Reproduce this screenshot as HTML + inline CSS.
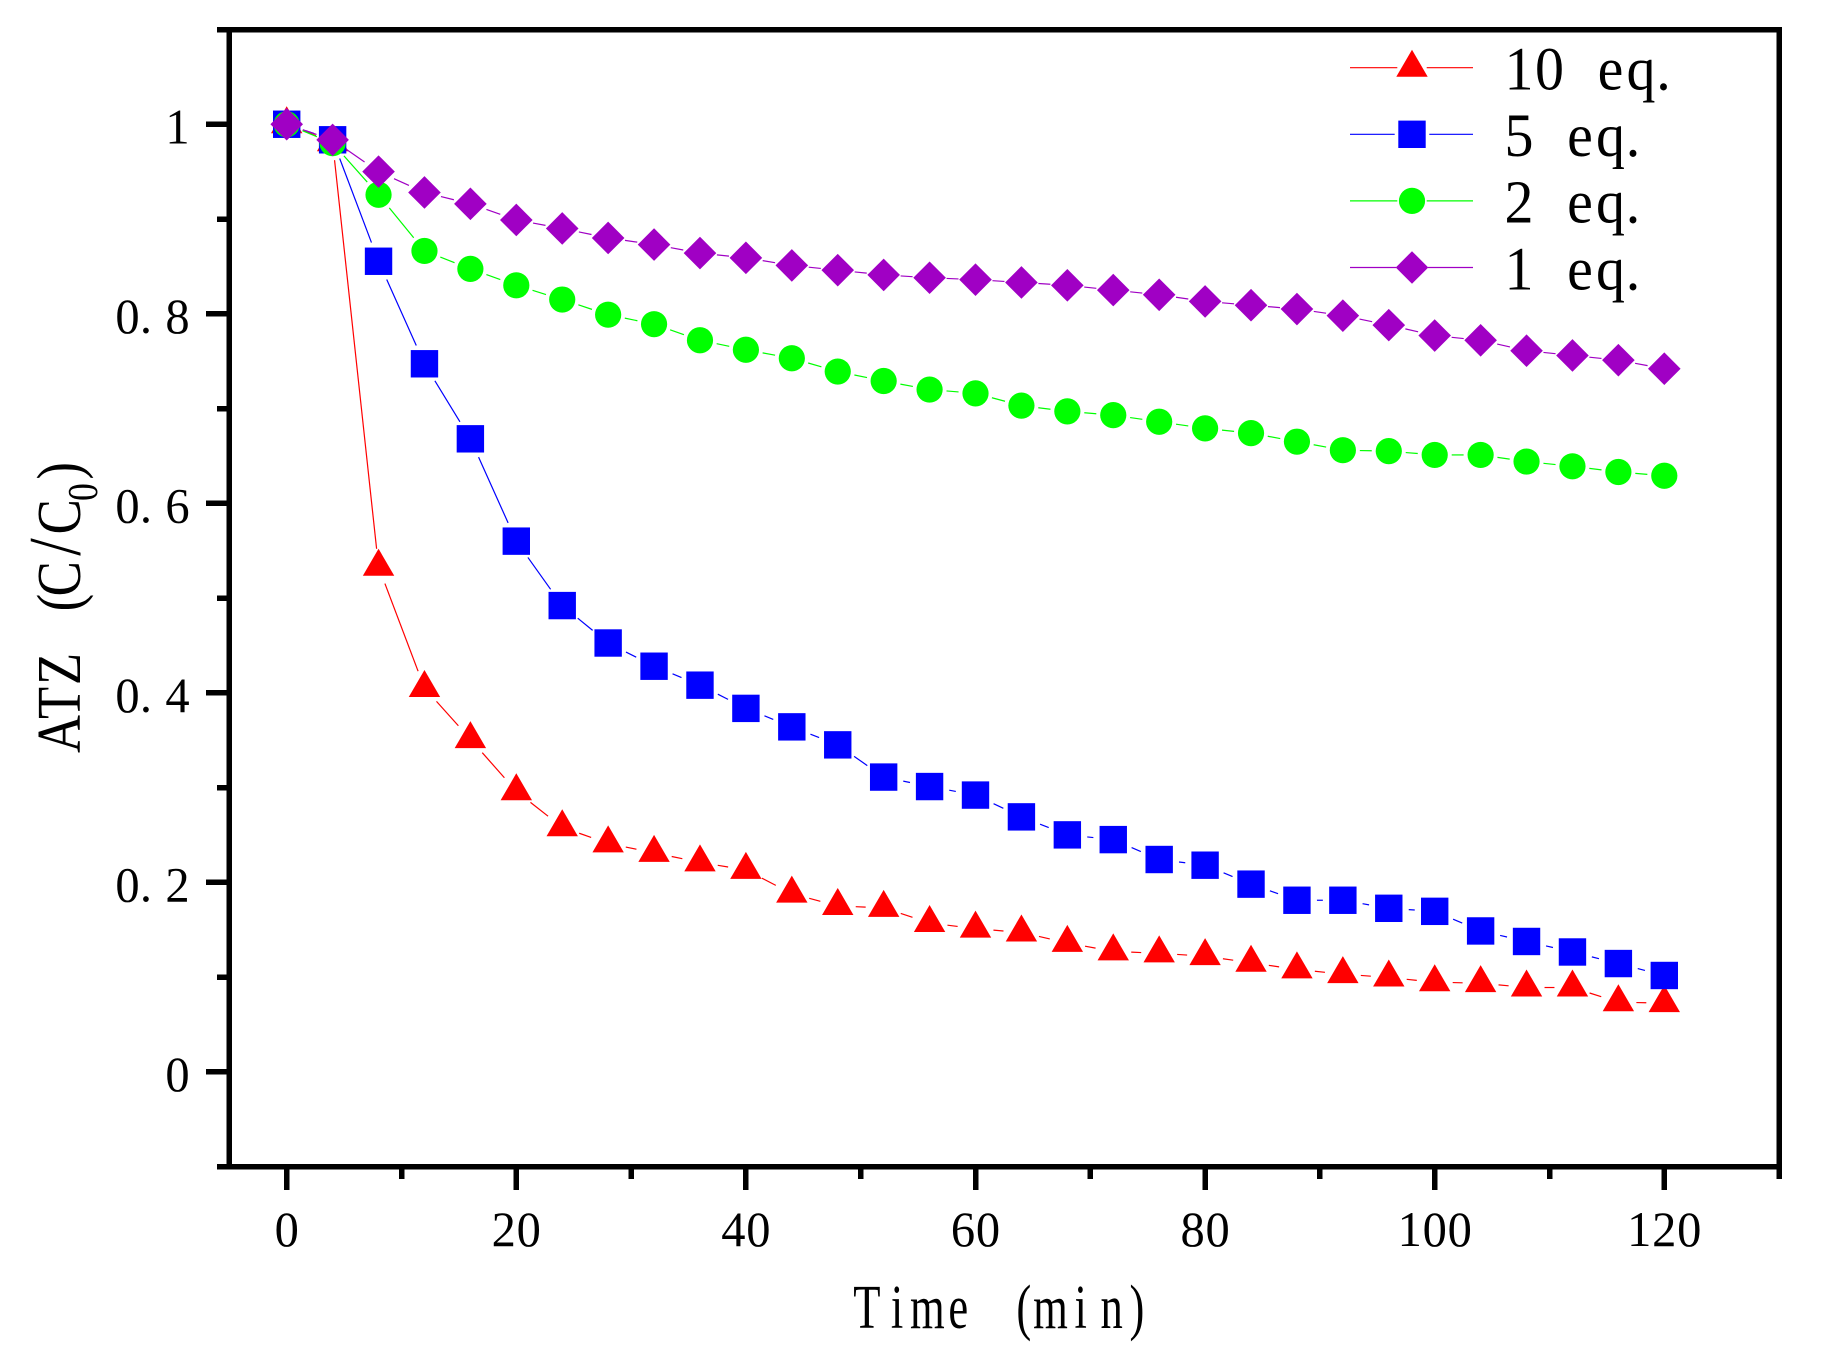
<!DOCTYPE html>
<html lang="en">
<head>
<meta charset="utf-8">
<title>ATZ degradation chart</title>
<style>
html,body{margin:0;padding:0;background:#fff;width:1830px;height:1364px;overflow:hidden}
svg{display:block}
text{font-family:"Liberation Serif","Noto Serif CJK SC",serif;fill:#000;white-space:pre}
</style>
</head>
<body>
<svg id="chart" xmlns="http://www.w3.org/2000/svg" width="1830" height="1364" viewBox="0 0 1830 1364">
  <rect x="0" y="0" width="1830" height="1364" fill="#fff"/>
  <g id="series-layer"></g>
  <g id="axis-layer" shape-rendering="crispEdges"></g>
  <g id="label-layer"></g>
  <text transform="translate(0 1328) scale(.72 1)" font-size="62" text-anchor="middle" x="1204 1246 1288 1331 1375 1422 1459 1501 1544 1579">Time (min)</text>
  <text transform="translate(80 0) rotate(-90) scale(.85 1)" font-size="62" text-anchor="middle" x="-863.5 -827 -787 -748 -709 -681">ATZ (C<tspan x="-643.5" font-size="74">/</tspan><tspan x="-608">C</tspan><tspan x="-579" dy="17" font-size="42">0</tspan><tspan x="-554" dy="-17">)</tspan></text>
  <g id="legend"></g>
</svg>
<script>
const times = [0,4,8,12,16,20,24,28,32,36,40,44,48,52,56,60,64,68,72,76,80,84,88,92,96,100,104,108,112,116,120];
const tenEq = [1,.981,.533,.405,.351,.296,.258,.241,.231,.221,.213,.188,.175,.173,.157,.151,.147,.136,.127,.125,.122,.115,.108,.103,.0995,.0945,.0935,.0889,.0889,.0734,.0724];
const fiveEq = [1,.9836,.8554,.7472,.668,.56,.492,.4525,.428,.408,.3835,.364,.345,.311,.301,.292,.269,.25,.245,.224,.218,.198,.181,.181,.1725,.1693,.1486,.1375,.1264,.1142,.1016];
const twoEq = [1,.98,.9256,.8663,.8474,.83,.815,.799,.789,.772,.762,.753,.739,.729,.72,.716,.703,.697,.693,.686,.679,.674,.665,.656,.655,.651,.651,.644,.639,.633,.629];
const oneEq = [1,.9835,.95,.928,.916,.899,.89,.88,.873,.864,.859,.851,.846,.841,.838,.836,.833,.83,.825,.82,.813,.809,.805,.798,.788,.777,.772,.761,.756,.751,.742];
const xMajorTicks = [0,20,40,60,80,100,120];
const xMinorTicks = [10,30,50,70,90,110,130];
const yMajorTicks = [0,0.2,0.4,0.6,0.8,1];
const yMinorTicks = [-0.1,0.1,0.3,0.5,0.7,0.9,1.1];
const xTickLabels = ['0','20','40','60','80','100','120'];
const yTickLabels = ['0','0.2','0.4','0.6','0.8','1'];
const legendLabels = ['10 eq.','5 eq.','2 eq.','1 eq.'];

const NS = 'http://www.w3.org/2000/svg';
function xScale(t){ return 286.7 + (t - 0) * (1664.3 - 286.7) / 120; }
function yScale(v){ return 1071.75 - v * 947.5; }

const seriesLayer = document.getElementById('series-layer');
const axisLayer = document.getElementById('axis-layer');
const labelLayer = document.getElementById('label-layer');
const legendLayer = document.getElementById('legend');

function svgEl(tag, attrs){
  const n = document.createElementNS(NS, tag);
  for (const k in attrs) n.setAttribute(k, attrs[k]);
  return n;
}
function markerEl(shape, cx, cy, color){
  let n;
  if (shape === 'triangle') {
    n = svgEl('polygon', {points:[cx,cy-18, cx+15.7,cy+9, cx-15.7,cy+9].join(' '), fill:color});
  } else if (shape === 'square') {
    n = svgEl('rect', {x:cx-13.7, y:cy-13.7, width:27.4, height:27.4, fill:color});
  } else if (shape === 'circle') {
    n = svgEl('circle', {cx:cx, cy:cy, r:13.1, fill:color});
  } else {
    n = svgEl('polygon', {points:[cx,cy-16.3, cx+16.3,cy, cx,cy+16.3, cx-16.3,cy].join(' '), fill:color});
  }
  return n;
}
function drawSeries(name, values, color, shape, gap){
  const g = svgEl('g', {});
  
  
  for (let i = 0; i < times.length - 1; i++) {
    const x1 = xScale(times[i]), y1 = yScale(values[i]);
    const x2 = xScale(times[i+1]), y2 = yScale(values[i+1]);
    const d = Math.hypot(x2-x1, y2-y1);
    if (d <= 2*gap) continue;
    const ux = (x2-x1)/d, uy = (y2-y1)/d;
    const seg = svgEl('line', {x1:x1+ux*gap, y1:y1+uy*gap, x2:x2-ux*gap, y2:y2-uy*gap, stroke:color, 'stroke-width':1.2});
    
    
    g.appendChild(seg);
  }
  for (let i = 0; i < times.length; i++) {
    const m = markerEl(shape, xScale(times[i]), yScale(values[i]), color);
    
    
    g.appendChild(m);
  }
  seriesLayer.appendChild(g);
}
drawSeries('10-eq', tenEq, '#ff0000', 'triangle', 18);
drawSeries('5-eq', fiveEq, '#0000ff', 'square', 20);
drawSeries('2-eq', twoEq, '#00ff00', 'circle', 17);
drawSeries('1-eq', oneEq, '#a000c4', 'diamond', 17);

function axisLine(name, x1, y1, x2, y2){
  const l = svgEl('line', {x1:x1, y1:y1, x2:x2, y2:y2, stroke:'#000', 'stroke-width':5.5});
  
  
  axisLayer.appendChild(l);
}
const xLeft = xScale(-5), xRight = xScale(130), yTop = yScale(1.1), yBottom = yScale(-0.1);
axisLine('left-axis-line', xLeft, yTop, xLeft, yBottom);
axisLine('right-axis-line', xRight, yTop - 2.6, xRight, yBottom);
axisLine('top-axis-line', xLeft, yTop, xRight + 2.6, yTop);
axisLine('bottom-axis-line', xLeft, yBottom, xRight + 2.6, yBottom);
xMajorTicks.forEach(function(t){ axisLine('x-major-tick', xScale(t), yBottom, xScale(t), yBottom + 23.5); });
xMinorTicks.forEach(function(t){ axisLine('x-minor-tick', xScale(t), yBottom, xScale(t), yBottom + 12.5); });
yMajorTicks.forEach(function(v){ axisLine('y-major-tick', xLeft, yScale(v), xLeft - 23.5, yScale(v)); });
yMinorTicks.forEach(function(v){ axisLine('y-minor-tick', xLeft, yScale(v), xLeft - 12.5, yScale(v)); });

function glyphText(parent, str, xs, baseline, size, sx){
  const t = svgEl('text', {
    transform: 'translate(0 ' + baseline + ') scale(' + sx + ' 1)',
    'font-size': size,
    'text-anchor': 'middle',
    x: xs.map(function(v){ return (v / sx).toFixed(2); }).join(' '),
    y: 0
  });
  t.textContent = str;
  parent.appendChild(t);
  return t;
}
xTickLabels.forEach(function(s, i){
  const cx = xScale(xMajorTicks[i]);
  const xs = Array.from(s).map(function(_, k){ return cx + (k - (s.length - 1) / 2) * 25; });
  const t = glyphText(labelLayer, s, xs, 1246, 50, 0.97);
  
  
});
yTickLabels.forEach(function(s, i){
  const xs = s.length > 1 ? [127.5, 146, 177.5] : [177.5];
  const t = glyphText(labelLayer, s, xs, yScale(yMajorTicks[i]) + 19, 50, 0.97);
  
  
});

const legendColors = ['#ff0000','#0000ff','#00ff00','#a000c4'];
const legendShapes = ['triangle','square','circle','diamond'];
const legendGaps = [14.7, 17.3, 14.7, 16];
legendLabels.forEach(function(s, i){
  const ly = 67.7 + i * 66.6;
  const g = svgEl('g', {});
  
  
  const left = svgEl('line', {x1:1350, y1:ly, x2:1412 - legendGaps[i], y2:ly, stroke:legendColors[i], 'stroke-width':1.2});
  
  
  g.appendChild(left);
  const right = svgEl('line', {x1:1412 + legendGaps[i], y1:ly, x2:1473, y2:ly, stroke:legendColors[i], 'stroke-width':1.2});
  
  
  g.appendChild(right);
  const m = markerEl(legendShapes[i], 1412, ly, legendColors[i]);
  
  
  g.appendChild(m);
  const chars = Array.from(s);
  const xs = chars.map(function(c, k){ return 1519 + k * 30.5 - (c === '.' ? 8 : 0); });
  const t = glyphText(g, s, xs, 89.5 + i * 66.6, 61, 0.95);
  
  
  legendLayer.appendChild(g);
});
</script>
</body>
</html>
